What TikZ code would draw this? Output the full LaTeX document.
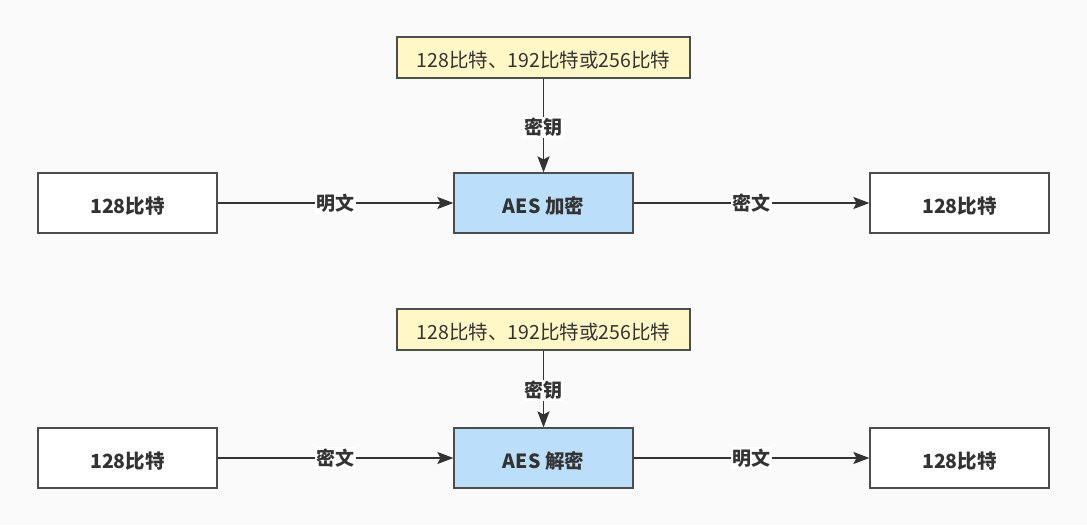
\documentclass[tikz,border=0pt]{standalone}
\usepackage{fontspec}
\setmainfont{Noto Sans CJK SC}
\usetikzlibrary{arrows.meta}
\definecolor{bg}{HTML}{FAFAFA}
\definecolor{ink}{HTML}{333333}
\definecolor{edge}{HTML}{4D4D4D}
\definecolor{yel}{HTML}{FFF8C6}
\definecolor{blu}{HTML}{BBDEFB}
\tikzset{
  box/.style={draw=edge, line width=1.2pt, fill=white, minimum width=179pt, minimum height=60pt, inner sep=0pt, text height=20pt, text depth=0pt, text=ink, font=\fontsize{19.5}{21}\selectfont\bfseries},
  aesbox/.style={box, fill=blu},
  keybox/.style={draw=edge, line width=1.2pt, fill=yel, minimum width=293pt, minimum height=41pt, inner sep=0pt, text height=20pt, text depth=0pt, text=ink, font=\fontsize{19.5}{21}\selectfont},
  conn/.style={draw=ink, line width=1.2pt, -{Stealth[length=16pt,width=12pt,inset=3pt]}},
  lbl/.style={fill=white, inner sep=1.5pt, text=ink, font=\fontsize{19}{21}\selectfont\bfseries}
}
\begin{document}
\begin{tikzpicture}[x=1pt,y=-1pt]
\fill[bg] (0,0) rectangle (1087,525);
\useasboundingbox (0,0) rectangle (1087,525);
% top row
\node[box] (p1) at (127.5,203) {128比特};
\node[aesbox] (e1) at (543.5,203) {AES 加密};
\node[box] (c1) at (959.5,203) {128比特};
\node[keybox] (k1) at (543.5,57.5) {128比特、192比特或256比特};
\draw[conn] (p1) -- node[lbl] {明文} (e1);
\draw[conn] (e1) -- node[lbl] {密文} (c1);
\draw[conn] (k1) -- node[lbl, pos=0.52] {密钥} (e1);
% bottom row
\node[box] (p2) at (127.5,458) {128比特};
\node[aesbox] (e2) at (543.5,458) {AES 解密};
\node[box] (c2) at (959.5,458) {128比特};
\node[keybox] (k2) at (543.5,329.5) {128比特、192比特或256比特};
\draw[conn] (p2) -- node[lbl] {密文} (e2);
\draw[conn] (e2) -- node[lbl] {明文} (c2);
\draw[conn] (k2) -- node[lbl, pos=0.52] {密钥} (e2);
\end{tikzpicture}
\end{document}
